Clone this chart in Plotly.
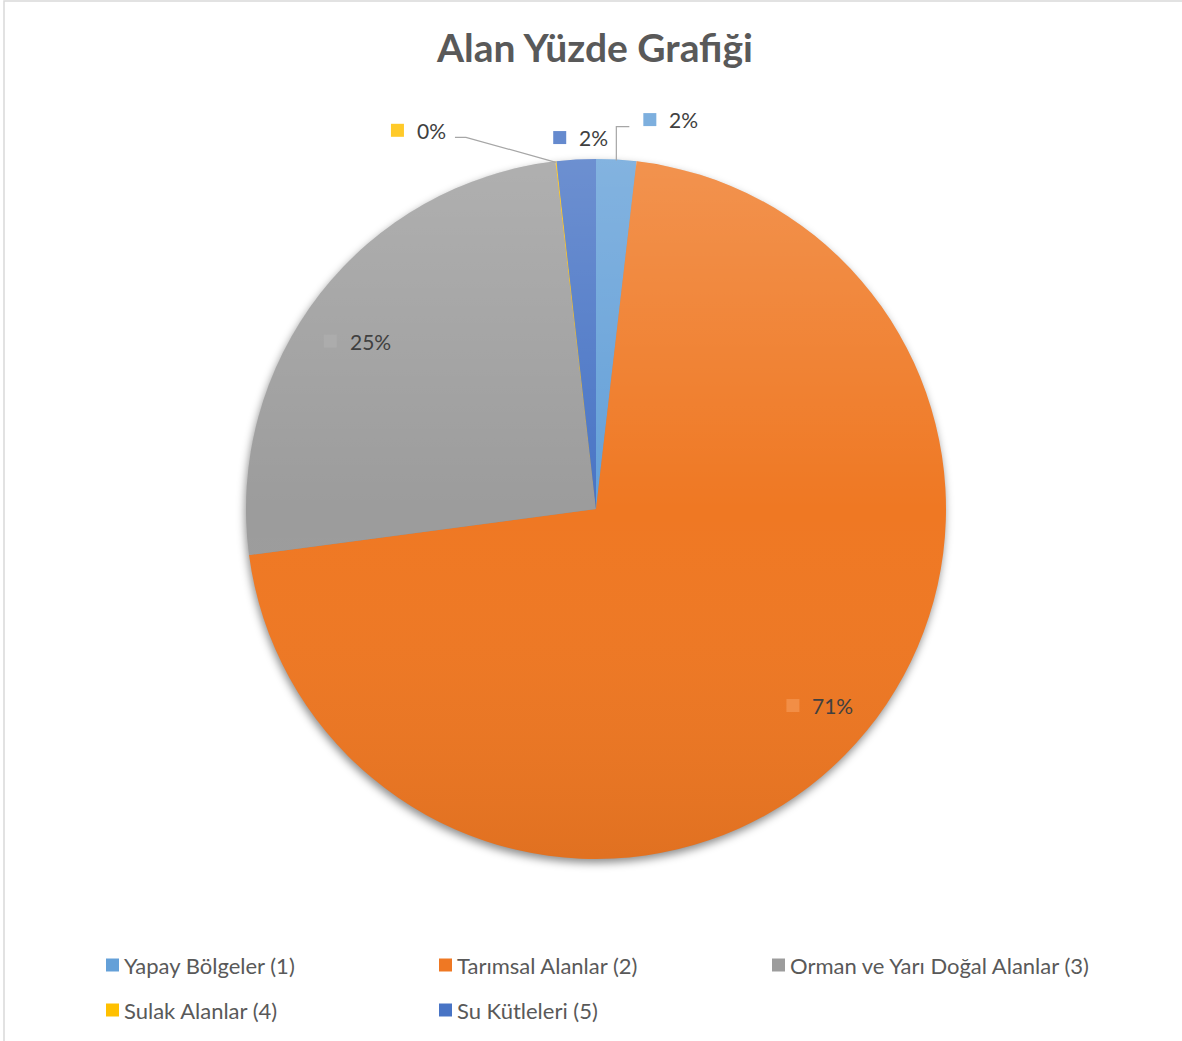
import base64
import math
import plotly.graph_objects as go

# ---- data -------------------------------------------------------------
categories = [
    "Yapay Bölgeler (1)",
    "Tarımsal Alanlar (2)",
    "Orman ve Yarı Doğal Alanlar (3)",
    "Sulak Alanlar (4)",
    "Su Kütleleri (5)",
]
shares = [1.85, 71.05, 25.25, 0.05, 1.8]  # percent of total area
colors = ["#64A0D8", "#EF7823", "#9C9C9C", "#FFC000", "#4874C5"]
title_text = "Alan Yüzde Grafiği"

# ---- canvas geometry (pixels) -----------------------------------------
W, H = 1182, 1041
CX, CY, R = 596, 509, 350
FONT = "Lato, 'Open Sans', sans-serif"


def px(x):
    return x / W


def py(y):
    return 1 - y / H


def tint(hex_color, amount):
    """Blend a colour towards white."""
    r, g, b = (int(hex_color[k:k + 2], 16) for k in (1, 3, 5))
    mix = lambda c: round(c + (255 - c) * amount)
    return f"#{mix(r):02X}{mix(g):02X}{mix(b):02X}"


total = sum(shares)
pct = [round(v / total * 100) for v in shares]

# mid angle of each slice (clockwise from 12 o'clock)
mids = []
acc = 0.0
for v in shares:
    mids.append((acc + v / 2) / total * 2 * math.pi)
    acc += v
edge = [(CX + R * math.sin(a), CY - R * math.cos(a)) for a in mids]

fig = go.Figure(
    go.Pie(
        labels=categories,
        values=shares,
        sort=False,
        direction="clockwise",
        rotation=0,
        marker=dict(colors=colors, line=dict(width=0)),
        textinfo="none",
        hoverinfo="label+percent",
        domain=dict(x=[px(CX - R), px(CX + R)], y=[py(CY + R), py(CY - R)]),
        showlegend=False,
    )
)

# soft drop shadow under the pie and a light-to-dark sheen on top of it
shadow_svg = (
    '<svg xmlns="http://www.w3.org/2000/svg" width="800" height="800" viewBox="0 0 800 800">'
    '<defs><filter id="b" x="-20%" y="-20%" width="140%" height="140%">'
    '<feGaussianBlur stdDeviation="4"/></filter></defs>'
    '<circle cx="399" cy="404" r="350" fill="#000" fill-opacity="0.45" filter="url(#b)"/></svg>'
)
sheen_svg = (
    '<svg xmlns="http://www.w3.org/2000/svg" width="800" height="800" viewBox="0 0 800 800">'
    '<defs><linearGradient id="g" x1="0" y1="50" x2="0" y2="750" gradientUnits="userSpaceOnUse">'
    '<stop offset="0" stop-color="#fff" stop-opacity="0.2"/>'
    '<stop offset="0.5" stop-color="#fff" stop-opacity="0"/>'
    '<stop offset="1" stop-color="#000" stop-opacity="0.06"/>'
    '</linearGradient></defs>'
    '<circle cx="400" cy="400" r="350" fill="url(#g)"/></svg>'
)


def svg_uri(s):
    return "data:image/svg+xml;base64," + base64.b64encode(s.encode()).decode()


for src, layer in [(shadow_svg, "below"), (sheen_svg, "above")]:
    fig.add_layout_image(
        source=svg_uri(src), xref="paper", yref="paper",
        x=px(CX - 400), y=py(CY - 400), sizex=800 / W, sizey=800 / H,
        xanchor="left", yanchor="top", sizing="stretch", layer=layer,
    )

shapes = []
annotations = []

# ---- data labels: key square + percentage ------------------------------
label_font = dict(family=FONT, size=21, color="#404040")
label_offsets = [(27, -40), (-59, -49), (4, 47), (-165, -31), (-23, -22)]
sq = 13
for i, (ex, ey) in enumerate(edge):
    dx, dy = label_offsets[i]
    lx, ly = ex + dx, ey + dy
    shapes.append(dict(type="rect", xref="paper", yref="paper",
                       x0=px(lx), x1=px(lx + sq), y0=py(ly + sq / 2), y1=py(ly - sq / 2),
                       fillcolor=tint(colors[i], 0.16), line=dict(width=0)))
    annotations.append(dict(
        x=px(lx + sq + 11), y=py(ly), xref="paper", yref="paper",
        text=f"{pct[i]}%", showarrow=False, font=label_font,
        xanchor="left", yanchor="middle",
    ))

# leader lines for the labels sitting outside the pie
for i, elbow, end in [(0, (0, -33), (13, -33)), (3, (-90, -24), (-101, -24))]:
    ex, ey = edge[i]
    pts = [(ex, ey + 1), (ex + elbow[0], ey + elbow[1]), (ex + end[0], ey + end[1])]
    path = "M" + " L".join(f"{px(x):.5f},{py(y):.5f}" for x, y in pts)
    shapes.append(dict(type="path", path=path, xref="paper", yref="paper",
                       line=dict(color="#A6A6A6", width=1.2)))

# ---- legend (two rows of three) ------------------------------------------
leg_x0, leg_y0, col_w, row_h, box = 106, 965, 333, 45, 13
for i, name in enumerate(categories):
    col, row = i % 3, i // 3
    x = leg_x0 + col * col_w
    y = leg_y0 + row * row_h
    shapes.append(dict(type="rect", xref="paper", yref="paper",
                       x0=px(x), x1=px(x + box), y0=py(y - box / 2), y1=py(y + box / 2),
                       fillcolor=colors[i], line=dict(width=0)))
    annotations.append(dict(
        x=px(x + box + 3), y=py(y), xref="paper", yref="paper", text=name,
        showarrow=False, xanchor="left", yanchor="middle",
        font=dict(family=FONT, size=22, color="#595959"),
    ))

# chart frame
shapes.append(dict(type="rect", xref="paper", yref="paper",
                   x0=px(4), x1=px(W + 20), y0=py(H + 20), y1=py(1),
                   line=dict(color="#D9D9D9", width=1.5), fillcolor="rgba(0,0,0,0)"))

fig.update_layout(
    width=W, height=H,
    margin=dict(l=0, r=0, t=0, b=0),
    paper_bgcolor="white", plot_bgcolor="white",
    title=dict(text=f"<b>{title_text}</b>", x=px(595), xanchor="center",
               y=py(48), yanchor="middle",
               font=dict(family=FONT, size=39, color="#595959")),
    annotations=annotations,
    shapes=shapes,
)

fig.write_html("out.html")
